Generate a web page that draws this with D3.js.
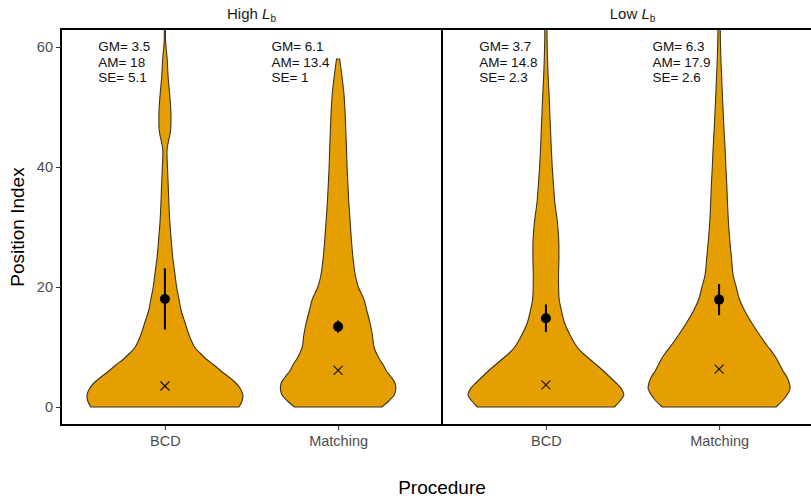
<!DOCTYPE html>
<html>
<head>
<meta charset="utf-8">
<script src="https://cdn.jsdelivr.net/npm/d3@7"></script>
<style>
  body { margin: 0; background: #fff; }
  svg { display: block; font-family: "Liberation Sans", Arial, sans-serif; }
</style>
</head>
<body>
<div id="chart"></div>
<script>
// data
const conditions = ["High", "Low"];
const procedures = ["BCD", "Matching"];
const yTicks = [0, 20, 40, 60];

// one entry per violin: High-BCD, High-Matching, Low-BCD, Low-Matching
const gmValues = [3.5, 6.1, 3.7, 6.3];
const amValues = [18, 13.4, 14.8, 17.9];
const seValues = [5.1, 1, 2.3, 2.6];

// relative density (1 = widest violin) at these Position Index levels
const densityLevels = [0, 1, 2, 3, 4, 5, 6, 7, 8, 9, 10, 12, 14, 16, 18, 20, 22, 25, 28, 31, 34, 37, 40, 43, 46, 49, 52, 55, 58, 61, 64, 67, 70];
const densHighBCD = [0.95, 0.99, 1.0, 0.97, 0.91, 0.82, 0.72, 0.63, 0.53, 0.45, 0.38, 0.31, 0.26, 0.21, 0.18, 0.15, 0.13, 0.10, 0.08, 0.062, 0.051, 0.042, 0.033, 0.028, 0.072, 0.077, 0.062, 0.041, 0.029, 0.009, 0.008, 0.007, 0.006];
const densHighMatching = [0.56, 0.65, 0.72, 0.74, 0.73, 0.68, 0.62, 0.58, 0.53, 0.49, 0.46, 0.44, 0.41, 0.37, 0.33, 0.26, 0.22, 0.19, 0.17, 0.154, 0.138, 0.126, 0.115, 0.108, 0.099, 0.09, 0.076, 0.051, 0.02];
const densLowBCD = [0.88, 0.95, 1.0, 0.97, 0.9, 0.82, 0.74, 0.65, 0.56, 0.47, 0.4, 0.31, 0.24, 0.2, 0.17, 0.163, 0.162, 0.167, 0.164, 0.146, 0.115, 0.097, 0.081, 0.069, 0.06, 0.05, 0.041, 0.029, 0.021, 0.015, 0.013, 0.01, 0.008];
const densLowMatching = [0.73, 0.81, 0.87, 0.91, 0.9, 0.87, 0.82, 0.78, 0.74, 0.69, 0.63, 0.52, 0.42, 0.33, 0.26, 0.22, 0.18, 0.158, 0.136, 0.119, 0.108, 0.099, 0.087, 0.077, 0.064, 0.053, 0.042, 0.033, 0.023, 0.017, 0.013, 0.01, 0.008];

const densities = [densHighBCD, densHighMatching, densLowBCD, densLowMatching];

const violins = [];
conditions.forEach((c, ci) => {
    procedures.forEach((p, pi) => {
        const k = ci * 2 + pi;
        violins.push({
            condition: c, procedure: p,
            gm: gmValues[k], am: amValues[k], se: seValues[k],
            profile: densities[k].map((d, i) => ({ v: densityLevels[i], d: d }))
        });
    });
});

const width = 811, height = 499;
const margin = { top: 29, left: 61, bottom: 74 };
const panelWidth = 381;
const fill = "#E69F00";

const svg = d3.select("#chart").append("svg")
    .attr("width", width)
    .attr("height", height);

const facet = d3.scaleBand()
    .domain(conditions)
    .range([margin.left, margin.left + 2 * panelWidth]);

const x = d3.scalePoint()
    .domain(procedures)
    .range([0, panelWidth])
    .padding(0.6);

const y = d3.scaleLinear()
    .domain([-3, 63])
    .range([height - margin.bottom, margin.top]);

const halfWidth = d3.scaleLinear()
    .domain([0, 1])
    .range([0, 0.45 * x.step()]);

svg.append("clipPath")
    .attr("id", "clip")
    .append("rect")
    .attr("x", margin.left)
    .attr("y", margin.top)
    .attr("width", 2 * panelWidth)
    .attr("height", y.range()[0] - margin.top);

const plot = svg.append("g").attr("clip-path", "url(#clip)");

// violins
plot.selectAll(".violin")
    .data(violins)
    .join("path")
    .attr("class", "violin")
    .attr("fill", fill)
    .attr("stroke", "#3b3322")
    .attr("stroke-width", 1.1)
    .attr("d", d => {
        const cx = facet(d.condition) + x(d.procedure);
        return d3.area()
            .curve(d3.curveCatmullRom)
            .y(p => y(p.v))
            .x0(p => cx - halfWidth(p.d))
            .x1(p => cx + halfWidth(p.d))(d.profile);
    });

// geometric mean crosses
const cross = plot.selectAll(".gm")
    .data(violins)
    .join("g")
    .attr("class", "gm")
    .attr("transform", d => `translate(${facet(d.condition) + x(d.procedure)},${y(d.gm)})`);
cross.append("line").attr("x1", -4.5).attr("y1", -4.5).attr("x2", 4.5).attr("y2", 4.5);
cross.append("line").attr("x1", -4.5).attr("y1", 4.5).attr("x2", 4.5).attr("y2", -4.5);
cross.selectAll("line").attr("stroke", "#111").attr("stroke-width", 1.2);

// arithmetic mean +/- SE
plot.selectAll(".se")
    .data(violins)
    .join("line")
    .attr("class", "se")
    .attr("x1", d => facet(d.condition) + x(d.procedure))
    .attr("x2", d => facet(d.condition) + x(d.procedure))
    .attr("y1", d => y(d.am - d.se))
    .attr("y2", d => y(d.am + d.se))
    .attr("stroke", "#000")
    .attr("stroke-width", 2);

plot.selectAll(".am")
    .data(violins)
    .join("circle")
    .attr("class", "am")
    .attr("cx", d => facet(d.condition) + x(d.procedure))
    .attr("cy", d => y(d.am))
    .attr("r", 5)
    .attr("fill", "#000");

// annotations
const notes = plot.selectAll(".note")
    .data(violins)
    .join("text")
    .attr("class", "note")
    .attr("font-size", "13.5px")
    .attr("fill", "#111")
    .attr("transform", d => `translate(${facet(d.condition) + x(d.procedure) - 0.385 * x.step()},${y(60) + 4})`);
notes.selectAll("tspan")
    .data(d => ["GM= " + d.gm, "AM= " + d.am, "SE= " + d.se])
    .join("tspan")
    .attr("x", 0)
    .attr("y", (d, i) => i * 15.5)
    .text(d => d);

// panel borders
conditions.forEach(c => {
    svg.append("rect")
        .attr("x", facet(c))
        .attr("y", margin.top)
        .attr("width", facet.bandwidth())
        .attr("height", y.range()[0] - margin.top)
        .attr("fill", "none")
        .attr("stroke", "#000")
        .attr("stroke-width", 2);
});

// y axis
const yAxis = svg.append("g")
    .attr("transform", `translate(${margin.left},0)`)
    .call(d3.axisLeft(y).tickValues(yTicks).tickSize(5).tickPadding(3));
yAxis.select(".domain").remove();

// x axes, one per facet
conditions.forEach(c => {
    const g = svg.append("g")
        .attr("transform", `translate(${facet(c)},${y.range()[0]})`)
        .call(d3.axisBottom(x).tickSize(5).tickPadding(6));
    g.select(".domain").remove();
});

svg.selectAll(".tick text")
    .attr("fill", "#4d4d4d")
    .attr("font-size", "14.5px")
    .attr("font-family", "'Liberation Sans', Arial, sans-serif");
svg.selectAll(".tick line").attr("stroke", "#333");

// facet titles
conditions.forEach(c => {
    const t = svg.append("text")
        .attr("x", facet(c) + facet.bandwidth() / 2)
        .attr("y", 19)
        .attr("text-anchor", "middle")
        .attr("font-size", "15px")
        .attr("fill", "#1a1a1a");
    t.append("tspan").text(c + " ");
    t.append("tspan").attr("font-style", "italic").text("L");
    t.append("tspan").attr("font-size", "10px").attr("dy", 3).text("b");
});

// axis titles
svg.append("text")
    .attr("transform", `translate(24,${(margin.top + y.range()[0]) / 2}) rotate(-90)`)
    .attr("text-anchor", "middle")
    .attr("font-size", "19px")
    .attr("fill", "#000")
    .text("Position Index");

svg.append("text")
    .attr("x", margin.left + panelWidth)
    .attr("y", 494)
    .attr("text-anchor", "middle")
    .attr("font-size", "19px")
    .attr("fill", "#000")
    .text("Procedure");
</script>
</body>
</html>
